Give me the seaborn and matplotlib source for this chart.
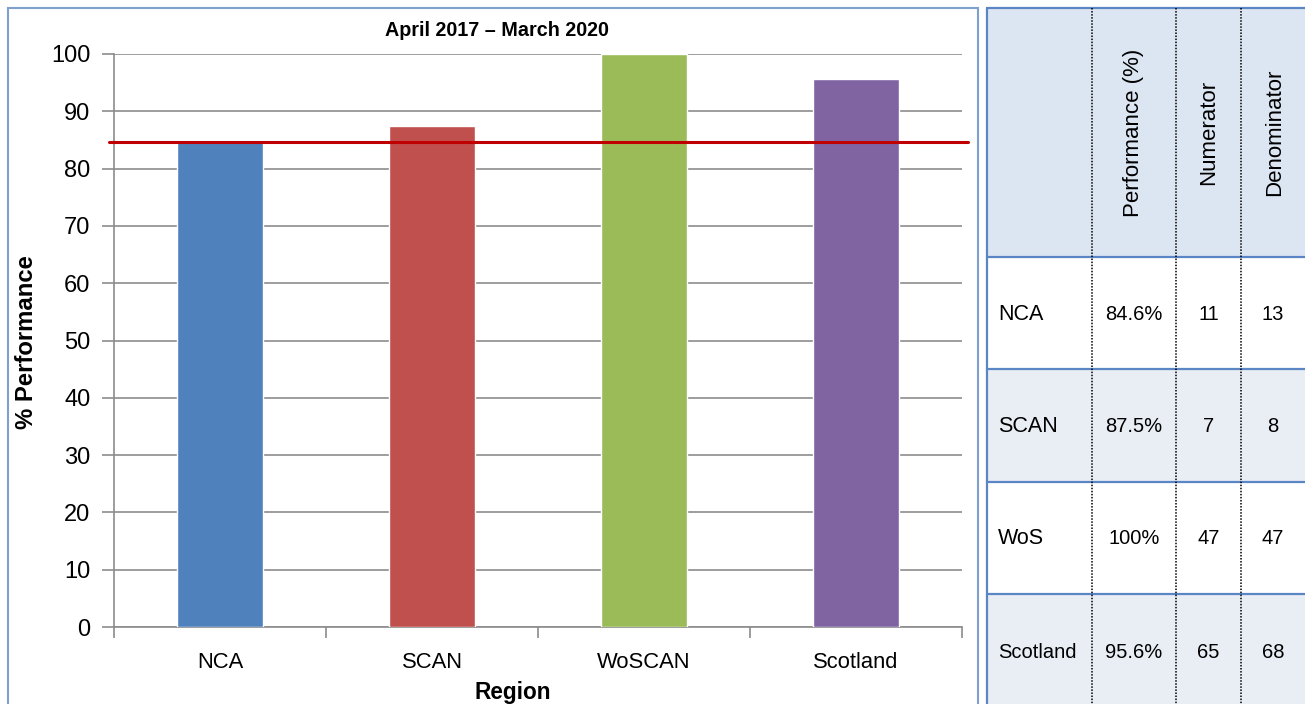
import matplotlib
matplotlib.use("Agg")
import matplotlib.pyplot as plt
from matplotlib import font_manager
from matplotlib.patches import Rectangle
import seaborn as sns
import pandas as pd

# ---- data -------------------------------------------------------------
regions = ["NCA", "SCAN", "WoSCAN", "Scotland"]
performance = [84.6, 87.5, 100.0, 95.6]
target = 84.7

table_labels = ["NCA", "SCAN", "WoS", "Scotland"]
table_perf = ["84.6%", "87.5%", "100%", "95.6%"]
numerators = [11, 7, 47, 65]
denominators = [13, 8, 47, 68]
table_headers = ["Performance (%)", "Numerator", "Denominator"]

yticks = list(range(0, 101, 10))
title = "April 2017 \u2013 March 2020"
bar_colors = ["#4F81BD", "#C0504D", "#9BBB59", "#8064A2"]

# ---- fonts ------------------------------------------------------------
sns.set_theme(style="white")
available = {f.name for f in font_manager.fontManager.ttflist}
narrow = "Liberation Sans Narrow" if "Liberation Sans Narrow" in available else "Liberation Sans"
narrow_scale = 1.0 if narrow == "Liberation Sans Narrow" else 0.88
plt.rcParams["font.family"] = ["Liberation Sans", "DejaVu Sans"]
plt.rcParams["text.color"] = "black"
plt.rcParams["axes.labelcolor"] = "black"
plt.rcParams["xtick.color"] = "black"
plt.rcParams["ytick.color"] = "black"

W, H = 1305, 704
fig = plt.figure(figsize=(W / 100, H / 100), dpi=100)
fig.patch.set_facecolor("white")


def fx(px):
    return px / W


def fy(py):
    return 1 - py / H


# chart frame
frame_color = "#7F9FCF"
fig.add_artist(Rectangle((fx(8), fy(720)), fx(978) - fx(8), fy(8) - fy(720),
                         transform=fig.transFigure, fill=False,
                         edgecolor=frame_color, linewidth=1.5))

# ---- bar chart --------------------------------------------------------
ax = fig.add_axes([fx(114), fy(627), fx(962) - fx(114), fy(54) - fy(627)])
df = pd.DataFrame({"Region": regions, "Performance": performance})
sns.barplot(data=df, x="Region", y="Performance", hue="Region",
            palette=bar_colors, width=0.41, legend=False, ax=ax,
            saturation=1, zorder=3)
ax.set_xlim(-0.5, len(regions) - 0.5)
ax.set_ylim(0, 100)
ax.set_yticks(yticks)
ax.set_yticklabels([str(t) for t in yticks], fontsize=17, color="black")
ax.yaxis.grid(True, color="#8C8C8C", linewidth=1.2, zorder=0)
ax.xaxis.grid(False)
for s in ["top", "right"]:
    ax.spines[s].set_visible(False)
for s in ["left", "bottom"]:
    ax.spines[s].set_color("#8C8C8C")
    ax.spines[s].set_linewidth(1.2)
ax.tick_params(axis="y", which="major", direction="out", length=9,
               width=1.2, color="#8C8C8C", pad=8, left=True, labelcolor="black")
ax.set_xticks(range(len(regions)))
ax.set_xticklabels(regions, fontsize=18 * narrow_scale,
                   family=[narrow, "DejaVu Sans"], color="black")
ax.tick_params(axis="x", which="major", length=0, pad=18, labelcolor="black")
ax.set_xticks([i - 0.5 for i in range(len(regions) + 1)], minor=True)
ax.tick_params(axis="x", which="minor", direction="out", length=8, width=1.2,
               color="#8C8C8C", bottom=True)
ax.set_xlabel("Region", fontsize=18.5 * narrow_scale, fontweight="bold",
              family=[narrow, "DejaVu Sans"], color="black")
ax.xaxis.set_label_coords((513 - 114) / 848, -(692 - 627) / 573, transform=ax.transAxes)
ax.xaxis.label.set_va("center")
ax.set_ylabel("% Performance", fontsize=19.5 * narrow_scale, fontweight="bold",
              family=[narrow, "DejaVu Sans"], color="black")
ax.yaxis.set_label_coords(-(114 - 27) / 848, (627 - 342) / 573, transform=ax.transAxes)
ax.yaxis.label.set_va("center")
ax.text((497 - 114) / 848, 1 + (54 - 30) / 573, title, transform=ax.transAxes,
        ha="center", va="center", fontsize=14.2, fontweight="bold", color="black")
ax.axhline(target, xmin=-0.006, xmax=1.007, color="#C00000", linewidth=2.2,
           zorder=5, clip_on=False)

# ---- data table -------------------------------------------------------
tx = fig.add_axes([0, 0, 1, 1])
tx.set_xlim(0, W)
tx.set_ylim(H, 0)
tx.axis("off")

col_edges = [987, 1092, 1176, 1241, 1308]
row_edges = [8, 257, 369, 482, 594, 707]
header_fill = "#DCE6F2"
row_fills = ["#FFFFFF", "#E9EDF4", "#FFFFFF", "#E9EDF4"]
border_blue = "#5B86C5"

tx.add_patch(Rectangle((col_edges[0], row_edges[0]), col_edges[-1] - col_edges[0],
                       row_edges[1] - row_edges[0], facecolor=header_fill,
                       edgecolor="none"))
for i, fill in enumerate(row_fills):
    tx.add_patch(Rectangle((col_edges[0], row_edges[i + 1]),
                           col_edges[-1] - col_edges[0],
                           row_edges[i + 2] - row_edges[i + 1],
                           facecolor=fill, edgecolor="none"))

for y in row_edges[:-1]:
    tx.plot([col_edges[0], col_edges[-1]], [y, y], color=border_blue, lw=1.6)
tx.plot([col_edges[0], col_edges[0]], [row_edges[0], row_edges[-1]],
        color=border_blue, lw=1.6)
for x in col_edges[1:-1]:
    tx.plot([x, x], [row_edges[0], row_edges[-1]], color="black", lw=1.1,
            linestyle=(0, (1, 1)))

for j, head in enumerate(table_headers):
    cx = (col_edges[j + 1] + col_edges[j + 2]) / 2
    tx.text(cx, (row_edges[0] + row_edges[1]) / 2, head, rotation=90,
            ha="center", va="center", fontsize=16, color="black")

for i in range(len(table_labels)):
    cy = (row_edges[i + 1] + row_edges[i + 2]) / 2 + 1
    if i == len(table_labels) - 1:
        cy = row_edges[i + 1] + 58
    size = 14.5 if len(table_labels[i]) > 4 else 15.5
    tx.text(col_edges[0] + 11, cy, table_labels[i], ha="left", va="center",
            fontsize=size, color="black")
    cells = [table_perf[i], str(numerators[i]), str(denominators[i])]
    for j, val in enumerate(cells):
        cx = (col_edges[j + 1] + col_edges[j + 2]) / 2
        if j == 2:
            cx = (col_edges[3] + 1305) / 2
        tx.text(cx, cy, val, ha="center", va="center", fontsize=14.5,
                color="black")

fig.savefig("out.png", dpi=100, facecolor="white")
